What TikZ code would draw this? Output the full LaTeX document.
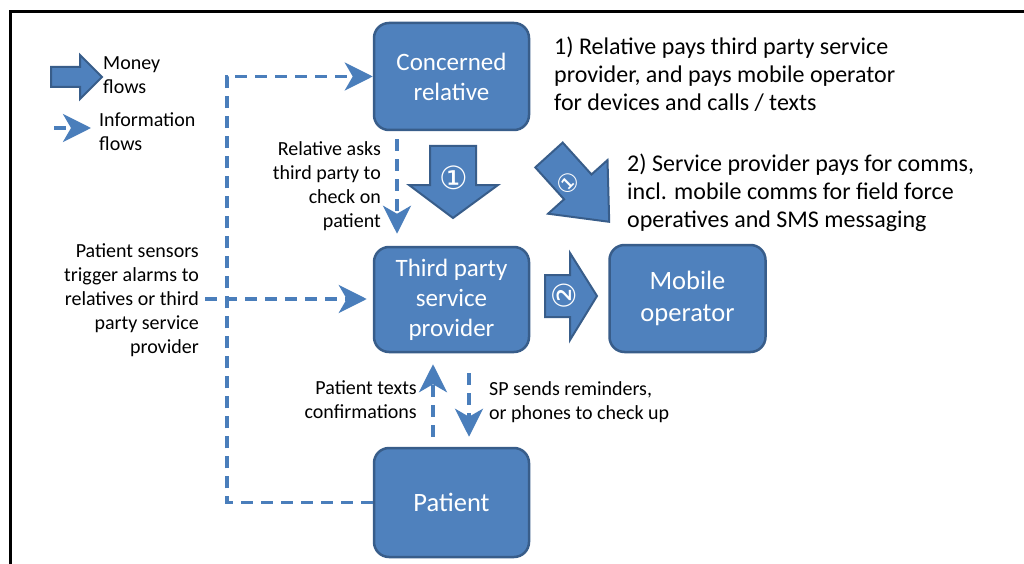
\documentclass[tikz,border=0pt]{standalone}
\usepackage{fontspec}
\setmainfont{Carlito}
\newfontfamily\circfont{DejaVu Sans}
\usetikzlibrary{arrows.meta}
\definecolor{boxblue}{HTML}{4F81BD}
\definecolor{boxborder}{HTML}{385D8A}
\definecolor{infoblue}{HTML}{4A7EBB}
\newcommand\lblfont{\fontsize{20}{24}\selectfont}
\newcommand\bigtxtfont{\fontsize{24}{28}\selectfont}
\newcommand\boxfontA{\fontsize{25}{30}\selectfont}
\newcommand\boxfontB{\fontsize{26.5}{32}\selectfont}
\tikzset{
  box/.style={draw=boxborder, fill=boxblue, line width=2.5pt, rounded corners=15pt,
    minimum width=155pt, minimum height=107pt, text=white, align=center, font=\boxfontA},
  info/.style={draw=infoblue, line width=3.5pt, dash pattern=on 12pt off 8pt,
    -{Stealth[length=28pt,width=28pt,inset=8pt]}},
  money/.style={fill=boxblue, draw=boxborder, line width=2pt, line join=miter},
  lbl/.style={font=\lblfont, inner sep=0pt},
  bigtxt/.style={font=\bigtxtfont, inner sep=0pt, align=left},
  circnum/.style={text=white, inner sep=0pt}
}
\begin{document}
\begin{tikzpicture}[x=1pt,y=-1pt]
\useasboundingbox (0,0) rectangle (1024,564);
\fill[white] (0,0) rectangle (1024,564);
% frame
\draw[line width=3pt] (10.5,566) -- (10.5,11.5) -- (1026,11.5);

% boxes
\node[box] (relative) at (451.5,76.5) {Concerned\\relative};
\node[box, minimum height=105pt] (third) at (451.5,299.5) {Third party\\service\\provider};
\node[box, minimum width=156pt, font=\boxfontB] (mobile) at (687.5,298.5) {Mobile\\operator};
\node[box, minimum height=109pt, font=\boxfontB] (patient) at (451.5,502.5) {Patient};

% legend
\draw[money] (51,67) -- (80,67) -- (80,55) -- (102,77) -- (80,99) -- (80,87) -- (51,87) -- cycle;
\node[lbl, anchor=base west, align=left] (lmoney) at (103,94) {Money\\flows};
\coordinate (li1) at (54,128);
\coordinate (li2) at (91,128);
\draw[info] (li1) -- (li2);
\node[lbl, anchor=base west, align=left] (linfo) at (99,150) {Information\\flows};

% money arrows
\draw[money] (430,146) -- (476,146) -- (476,185) -- (498,185) -- (453,218) -- (409,185) -- (430,185) -- cycle;
\node[circnum, font=\circfont\fontsize{32}{32}\selectfont] (n1a) at (454,178) {①};
\draw[money] (562.7,142.6) -- (591.5,174.5) -- (607.5,160.1) -- (609.2,221.8) -- (548.1,213.7) -- (564.1,199.3) -- (535.3,167.4) -- cycle;
\node[circnum, rotate=45, font=\circfont\fontsize{25}{25}\selectfont] (n1b) at (568,183) {①};
\draw[money] (545,275) -- (570,275) -- (570,253) -- (597,296) -- (570,340) -- (570,317) -- (545,317) -- cycle;
\node[circnum, rotate=90, font=\circfont\fontsize{31}{31}\selectfont] (n2) at (564,296) {②};

% info flows
\coordinate (loopx) at (227,0);
\draw[info] (patient.west) -- (patient.west -| loopx) |- (relative.west);
\coordinate (sens) at (205,299);
\draw[info, shorten >=6pt] (sens) -- (sens -| third.west);
\coordinate (askx) at (397,0);
\draw[info, shorten <=8pt, shorten >=12pt] (relative.south -| askx) -- (third.north -| askx);
\coordinate (upx) at (433,0);
\draw[info, shorten <=10pt, shorten >=11pt] (patient.north -| upx) -- (third.south -| upx);
\coordinate (dnx) at (469,0);
\draw[info, shorten <=20pt, shorten >=10pt] (third.south -| dnx) -- (patient.north -| dnx);

% texts
\node[bigtxt, anchor=base west] (t1) at (554,111) {1) Relative pays third party service\\provider, and pays mobile operator\\for devices and calls / texts};
\node[bigtxt, anchor=base west] (t2) at (627,227) {2) Service provider pays for comms,\\incl. mobile comms for field force\\operatives and SMS messaging};
\node[lbl, anchor=base east, align=right] (tasks) at (381,227) {Relative asks\\third party to\\check on\\patient};
\node[lbl, anchor=base east, align=right] (tsens) at (199,353) {Patient sensors\\trigger alarms to\\relatives or third\\party service\\provider};
\node[lbl, anchor=base east, align=right] (ttexts) at (417,418) {Patient texts\\confirmations};
\node[lbl, anchor=base west, align=left] (tsp) at (489,419) {SP sends reminders,\\or phones to check up};
\end{tikzpicture}
\end{document}
